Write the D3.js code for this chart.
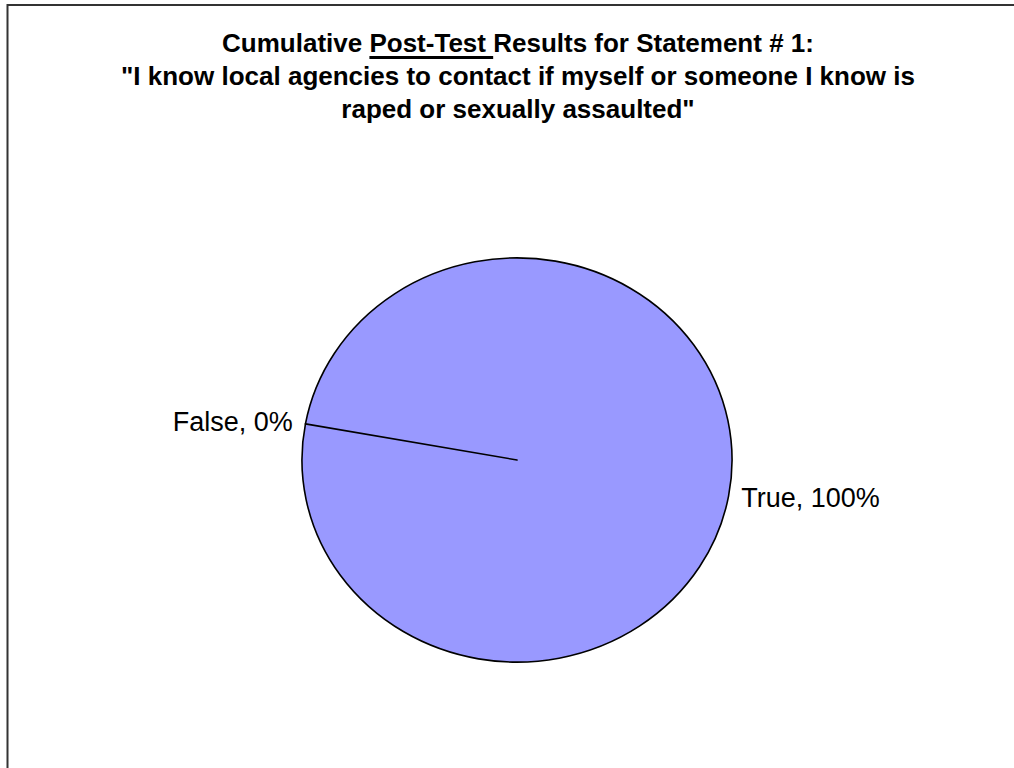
<!DOCTYPE html>
<html>
<head>
<meta charset="utf-8">
<script src="https://cdn.jsdelivr.net/npm/d3@7"></script>
<style>
  html, body { margin: 0; padding: 0; background: #fff; }
  svg { display: block; }
</style>
</head>
<body>
<svg id="chart" width="1014" height="768"></svg>
<script>
// ---- data ----
const categories = ["False", "True"];
const values = [0, 100];
const titleLines = [
  "Cumulative Post-Test Results for Statement # 1:",
  "\"I know local agencies to contact if myself or someone I know is",
  "raped or sexually assaulted\""
];
const underlinedPart = "Post-Test ";

// ---- layout ----
const W = 1014, H = 768;
const cx = 517, cy = 460, rx = 215, ry = 202;
const startDeg = -79.7;
const sliceFill = "#9999FF";

const svg = d3.select("#chart");

// outer chart border (extends past right / bottom edge)
svg.append("rect")
  .attr("x", 7.5).attr("y", 5)
  .attr("width", W + 20).attr("height", H + 20)
  .attr("fill", "#fff")
  .attr("stroke", "#333").attr("stroke-width", 2);

// title
const title = svg.append("g")
  .attr("font-family", "'Liberation Sans', Arial, Helvetica, sans-serif")
  .attr("font-weight", "bold")
  .attr("font-size", 26)
  .attr("fill", "#000")
  .attr("text-anchor", "middle");

const lineY = [52, 85, 118];
const titleTexts = title.selectAll("text")
  .data(titleLines)
  .join("text")
  .attr("x", 518)
  .attr("y", (d, i) => lineY[i])
  .text(d => d);

// underline "Post-Test "
const t0 = titleTexts.nodes()[0];
const idx = titleLines[0].indexOf(underlinedPart);
const ux0 = t0.getStartPositionOfChar(idx).x;
const ux1 = t0.getStartPositionOfChar(idx + underlinedPart.length).x;
title.append("line")
  .attr("x1", ux0).attr("x2", ux1)
  .attr("y1", lineY[0] + 5.5).attr("y2", lineY[0] + 5.5)
  .attr("stroke", "#000").attr("stroke-width", 3);

// pie
const rad = startDeg * Math.PI / 180;
const pie = d3.pie().sort(null)
  .startAngle(rad).endAngle(rad + 2 * Math.PI)
  .value(d => d.value);
const data = categories.map((c, i) => ({ name: c, value: values[i] }));
const arcs = pie(data);

const arc = d3.arc().innerRadius(0).outerRadius(1);

const pg = svg.append("g")
  .attr("transform", `translate(${cx},${cy}) scale(${rx},${ry})`);

// draw larger slices first, the zero slice's edge on top
const order = arcs.slice().sort((a, b) => (b.endAngle - b.startAngle) - (a.endAngle - a.startAngle));
pg.selectAll("path")
  .data(order)
  .join("path")
  .attr("d", arc)
  .attr("fill", sliceFill)
  .attr("stroke", "#000")
  .attr("stroke-width", 1.6)
  .attr("vector-effect", "non-scaling-stroke")
  .attr("stroke-linejoin", "round");

// labels
const labelArc = d3.arc().innerRadius(1.06).outerRadius(1.06);
const pct = d3.format(".0%");
const total = d3.sum(values);
svg.append("g")
  .attr("font-family", "'Liberation Sans', Arial, Helvetica, sans-serif")
  .attr("font-size", 27)
  .attr("fill", "#000")
  .selectAll("text")
  .data(arcs)
  .join("text")
  .each(function(d) {
    const mid = (d.startAngle + d.endAngle) / 2;
    const [ux, uy] = labelArc.centroid(d);
    const x = cx + ux * rx, y = cy + uy * ry;
    d3.select(this)
      .attr("x", x)
      .attr("y", y + 9)
      .attr("text-anchor", Math.sin(mid) < 0 ? "end" : "start");
  })
  .text(d => `${d.data.name}, ${pct(d.data.value / total)}`);
</script>
</body>
</html>
